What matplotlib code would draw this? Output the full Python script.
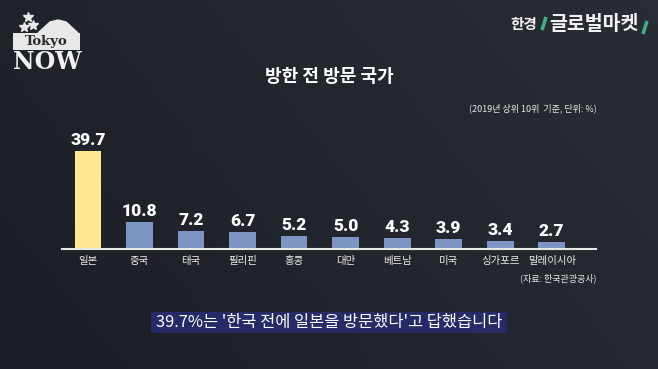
import numpy as np
import matplotlib
matplotlib.use('Agg')
import matplotlib.pyplot as plt
from matplotlib.patches import Rectangle, Polygon

plt.rcParams['font.family'] = ['Noto Sans CJK KR', 'DejaVu Sans']

# 데이터 (2019년 상위 10위, 단위: %)
countries = ['일본', '중국', '태국', '필리핀', '홍콩', '대만', '베트남', '미국', '싱가포르', '말레이시아']
shares = [39.7, 10.8, 7.2, 6.7, 5.2, 5.0, 4.3, 3.9, 3.4, 2.7]
bar_colors = ['#fde891'] + ['#7d94c4'] * 9

W, H = 658, 369
fig = plt.figure(figsize=(W / 100, H / 100), dpi=100)

# 배경 (픽셀 좌표)
bg = fig.add_axes([0, 0, 1, 1])
bg.set_xlim(0, W)
bg.set_ylim(H, 0)
bg.axis('off')
gx = np.linspace(0, 1, 200)
gy = np.linspace(0, 1, 120)
GX, GY = np.meshgrid(gx, gy)
grad = 0.55 * GX + 0.25 * (1 - GY)
c0 = np.array([27, 31, 37]) / 255
c1 = np.array([44, 50, 56]) / 255
img = c0[None, None, :] + grad[:, :, None] * (c1 - c0)[None, None, :]
bg.imshow(img, extent=[0, W, H, 0], aspect='auto', zorder=0)

# 로고 (Tokyo NOW)
bg.add_patch(Polygon([[38, 33], [50, 22], [58, 20], [66, 22], [78, 33]],
                     closed=True, color='#e8e8e8', zorder=2))
bg.add_patch(Rectangle((13, 33), 67, 17, facecolor='#e8e8e8', edgecolor='none', zorder=2))
bg.text(46.5, 42, 'Tokyo', family='DejaVu Serif', fontweight='bold', fontsize=9.5,
        color='#2a2a2a', ha='center', va='center', zorder=3)
bg.text(47, 62, 'NOW', family='DejaVu Serif', fontweight='bold', fontsize=17,
        color='#f0f0f0', ha='center', va='center', zorder=3)
for cx, cy in [(28, 17), (33, 25), (24, 27)]:
    bg.plot(cx, cy, marker='*', markersize=7, color='#e8e8e8', zorder=3)

# 로고 (한경 글로벌마켓)
bg.text(524, 24, '한경', fontsize=10.5, fontweight='bold', color='#f2f2f2',
        ha='center', va='center')
bg.plot([542, 546], [30, 17], color='#3fae8a', lw=2.5, solid_capstyle='butt')
bg.plot([643, 647], [34, 21], color='#3fae8a', lw=2.5, solid_capstyle='butt')
bg.text(594, 24, '글로벌마켓', fontsize=14, fontweight='heavy', color='#f2f2f2',
        ha='center', va='center')

# 제목
bg.text(329, 77, '방한 전 방문 국가', fontsize=13, fontweight='bold', color='white',
        ha='center', va='center')
bg.text(597, 108, '(2019년 상위 10위  기준, 단위: %)', fontsize=6.5, color='#e6e6e6',
        ha='right', va='center')
bg.text(597, 278, '(자료: 한국관광공사)', fontsize=6.5, color='#e6e6e6',
        ha='right', va='center')

# 자막
bg.add_patch(Rectangle((151, 312), 356, 21, facecolor='#262a66', edgecolor='none', zorder=2))
bg.text(329, 322.5, "39.7%는 '한국 전에 일본을 방문했다'고 답했습니다", fontsize=11.8,
        color='white', ha='center', va='center', zorder=3)

# 막대 차트
left, right, base, top = 62, 596, 249, 139
ax = fig.add_axes([left / W, (H - base) / H, (right - left) / W, (base - top) / H])
ax.patch.set_alpha(0)
x = np.arange(len(countries))
ax.bar(x, shares, width=0.52, color=bar_colors, edgecolor='none', zorder=2)
ax.set_xlim(-0.505, 9.86)
ax.set_ylim(0, (base - top) / 2.47)
for i, v in enumerate(shares):
    ax.text(i, v + 1.2, f'{v:.1f}', ha='center', va='bottom', fontsize=12.5,
            fontweight='heavy', color='white', family=['Roboto', 'DejaVu Sans'])
ax.set_xticks(x)
ax.set_xticklabels(countries, fontsize=7.5, color='#ececec', fontweight='medium')
ax.tick_params(axis='x', length=0, pad=5)
ax.set_yticks([])
for s in ['top', 'left', 'right']:
    ax.spines[s].set_visible(False)
ax.spines['bottom'].set_color('#e8e8e8')
ax.spines['bottom'].set_linewidth(1.5)

fig.savefig('out.png', dpi=100)
